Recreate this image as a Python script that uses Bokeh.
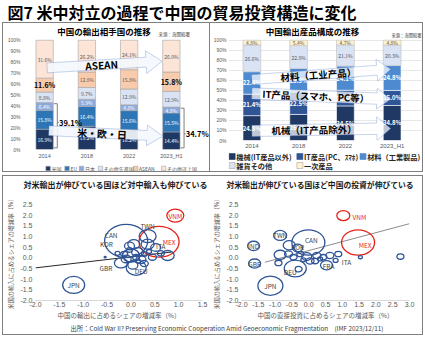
import numpy as np
from bokeh.plotting import figure
from bokeh.layouts import row, column
from bokeh.models import (ColumnDataSource, Label, PolyAnnotation,
                          FixedTicker, PrintfTickFormatter, NumeralTickFormatter, Range1d, Spacer)
from bokeh.embed import file_html
from bokeh.resources import INLINE
from bokeh.core.properties import value

JP = "Noto Sans CJK JP"
NUM = "Liberation Sans"
GRAY = "#595959"
BOXC = "#7f7f7f"

# ================= data =================
years = ["2014", "2018", "2022", "2023_H1"]

# 中国の輸出相手国の推移 (%)
dest_names = ["米国", "EU", "日本", "その他先進国", "ASEAN", "その他途上国"]
dest_us = [16.9, 19.2, 16.2, 14.4]
dest_eu = [15.8, 16.4, 15.6, 15.5]
dest_jp = [6.4, 5.9, 4.8, 4.8]
dest_dev = [8.8, 9.7, 12.9, 12.9]
dest_asean = [11.6, 12.8, 15.8, 15.8]
dest_devg = [31.6, 26.2, 24.1, 26.0]

# 中国輸出産品構成の推移 (%)
prod_names = ["機械(IT産品以外)", "IT産品(PC、ｽﾏﾎ)", "材料（工業製品)", "雑貨その他", "一次産品"]
prod_mach = [24.8, 26.0, 34.5, 34.8]
prod_it = [21.4, 22.5, 15.6, 15.0]
prod_mat = [22.4, 23.3, 24.1, 24.8]
prod_misc = [26.6, 22.8, 21.1, 20.3]
prod_prim = [4.8, 5.4, 4.7, 4.8]

# bubble chart 1: x = 中国の輸出に占めるシェアの増減率, y = 米国の輸入に占めるシェアの増減率
imp_code = ["JPN", "VNM", "MEX", "TWN", "CAN", "KOR", "GBR", "DEU", "ITA", "", "", "", "", "",
            "", "", "", "", "", "", "", "", "", "", "", "", "", ""]
imp_x = [-1.20, 0.93, 0.59, 0.35, -0.10, -0.03, -0.21, 0.11, 0.52, 0.06, 0.35, 0.77, 0.45, 0.00,
         0.14, -0.10, 0.21, 0.04, 0.28, -0.14, 0.11, -0.54, 0.63, -0.03, 0.28, -0.28, 0.38, 0.15]
imp_y = [-1.27, 1.98, 0.75, 1.02, 0.79, 0.56, -0.24, -0.46, 0.49, 0.64, 0.64, 0.11, 0.03, 0.11,
         0.26, -0.05, -0.09, -0.35, -0.27, 0.18, 0.03, 0.03, 0.21, 0.37, 0.18, 0.21, 0.30, -0.15]
imp_size = [22, 17, 40, 17, 43, 10, 13, 20, 10, 12, 13, 13, 8, 17,
            12, 10, 10, 10, 8, 7, 7, 2, 7, 6, 6, 5, 5, 5]
imp_fit = (0.05, 0.26)          # intercept, slope of the trend line
imp_fit_x = [-2.0, 0.85]

# bubble chart 2: x = 中国の直接投資に占めるシェアの増減率
fdi_code = ["VNM", "MEX", "TWN", "CAN", "IND", "GBR", "KOR", "", "DEU", "", "JPN", "FRA", "", "",
            "", "", "", "", "", "", "", "", "", "", "", "", "", "", "ITA"]
fdi_x = [1.03, 1.47, -0.85, -0.01, -1.64, -1.61, -0.33, -0.58, -0.40, -0.30, -1.14, 0.53, 2.73, 1.54,
         0.88, -0.90, -0.85, -0.60, -0.06, 0.04, 0.24, 0.44, 0.63, -0.25, -0.45, 0.19, -0.16, 0.34, 0.80]
fdi_y = [1.98, 0.72, 1.05, 0.72, 0.56, -0.27, 0.46, 0.59, -0.50, -0.53, -1.31, -0.35, 0.06, 0.03,
         0.18, -0.24, 0.14, 0.18, 0.06, -0.15, 0.11, 0.03, 0.11, 0.18, 0.03, -0.15, -0.09, -0.05, -0.12]
fdi_size = [13, 33, 13, 33, 12, 12, 10, 12, 22, 7, 25, 12, 7, 4,
            7, 7, 12, 8, 10, 8, 8, 7, 8, 7, 7, 7, 5, 5, 5]
fdi_fit = (0.34, 0.42)
fdi_fit_x = [-1.3, 3.0]

RED_CODES = {"VNM", "MEX"}

# ================= styles =================
DEST_COLORS = ["#1f3864", "#2e75b6", "#8eaadb", "#dae3f3", "#f8cbad", "#fce4d6"]
PROD_COLORS = ["#1f3864", "#2f5597", "#4e8ad0", "#dae3f3", "#fff2cc"]
PROD_LINES = ["#1f3864", "#2f5597", "#4e8ad0", "#a6a6a6", "#a6a6a6"]
BLUE = "#2f5597"
RED = "#e3241b"

imp_lab_off = {"JPN": (0, 0), "VNM": (0, 0), "MEX": (10, 0), "TWN": (0, -10), "CAN": (-15, -6),
               "KOR": (-23, -2), "GBR": (-15, 5), "DEU": (5, 3), "ITA": (5, -1)}
fdi_lab_off = {"VNM": (16, 1), "MEX": (7, 3), "TWN": (0, 0), "CAN": (3, -2), "IND": (0, 0),
               "GBR": (0, 0), "KOR": (0, -1), "DEU": (-5, 3), "JPN": (0, 0), "FRA": (2, 1),
               "ITA": (11, 2)}

# legend item slots (pixels from the legend strip's left edge / bottom edge)
LEG_L_X = [25, 46, 62, 83, 122, 153]
LEG_R_X = [1, 75, 144]
LEG_R_Y = [15, 6]


def base_fig(w, h, xr, yr, bl, br, bt, bb):
    p = figure(width=w, height=h, x_range=Range1d(*xr), y_range=Range1d(*yr),
               output_backend="svg", toolbar_location=None, title=None,
               min_border_left=bl, min_border_right=br, min_border_top=bt, min_border_bottom=bb)
    p.outline_line_color = None
    p.grid.visible = False
    for ax in p.axis:
        ax.axis_line_color = None
        ax.major_tick_line_color = None
        ax.minor_tick_line_color = None
        ax.major_tick_out = 0
        ax.major_tick_in = 0
        ax.minor_tick_out = 0
        ax.minor_tick_in = 0
        ax.axis_label_standoff = 0
        ax.major_label_text_font = NUM
        ax.major_label_text_color = GRAY
    return p


def blank_fig(w, h):
    p = figure(width=w, height=h, x_range=Range1d(0, w), y_range=Range1d(0, h),
               output_backend="svg", toolbar_location=None, title=None,
               x_axis_location=None, y_axis_location=None, min_border=0)
    p.outline_line_color = None
    p.grid.visible = False
    return p


def abs_label(p, fl, fb, ax, ay, text, size, color="black", bold=False, align="center", angle=0.0):
    p.add_layout(Label(x=ax - fl, y=fb - ay, x_units="screen", y_units="screen", text=text,
                       text_font=JP, text_font_size=f"{size}px",
                       text_font_style="bold" if bold else "normal",
                       text_color=color, text_align=align, text_baseline="middle", angle=angle))


def arrow(p, x0, y0, x1, y1, kx, ky, body, head_w, head_l, fill, alpha, line):
    X0, Y0, X1, Y1 = x0 * kx, y0 * ky, x1 * kx, y1 * ky
    dx, dy = X1 - X0, Y1 - Y0
    L = np.hypot(dx, dy)
    ux, uy = dx / L, dy / L
    nx, ny = -uy, ux
    bx, by = X1 - ux * head_l, Y1 - uy * head_l
    pts = [(X0 + nx * body / 2, Y0 + ny * body / 2), (bx + nx * body / 2, by + ny * body / 2),
           (bx + nx * head_w / 2, by + ny * head_w / 2), (X1, Y1),
           (bx - nx * head_w / 2, by - ny * head_w / 2), (bx - nx * body / 2, by - ny * body / 2),
           (X0 - nx * body / 2, Y0 - ny * body / 2)]
    p.add_layout(PolyAnnotation(xs=[a / kx for a, _ in pts], ys=[b / ky for _, b in pts],
                                fill_color=fill, fill_alpha=alpha, line_color=line, line_width=1))


def arrow_text(p, x0, y0, x1, y1, kx, ky, xt, text, size):
    yt = y0 + (xt - x0) / (x1 - x0) * (y1 - y0)
    ang = float(np.arctan2((y1 - y0) * ky, (x1 - x0) * kx))
    p.add_layout(Label(x=xt, y=yt, text=text, angle=ang, text_font=JP, text_font_style="bold",
                       text_font_size=f"{size}px", text_align="center", text_baseline="middle",
                       text_color="black"))


def stacked(vals):
    a = np.array(vals, dtype=float)
    h = a / a.sum(axis=0) * 100.0
    top = np.cumsum(h, axis=0)
    return a, h, top - h, top


def legend_strip(w, h, names, colors, lines, xs, ys, sq, fs, tcolor, bold):
    f = blank_fig(w, h)
    f.scatter(x=[x + sq / 2 for x in xs], y=ys, marker="square", size=sq, fill_color=colors,
              line_color=lines, line_width=0.6)
    f.text(x=[x + sq + 1.5 for x in xs], y=ys, text=names, text_font=value(JP),
           text_font_size=f"{fs}px", text_font_style="bold" if bold else "normal",
           text_color=tcolor, text_align="left", text_baseline="middle")
    return f


xpos = list(range(len(years)))
year_labels = {i: y for i, y in enumerate(years)}

# ================= title =================
pt = blank_fig(425, 22)
abs_label(pt, 0, 22, 7, 11, "図7 米中対立の過程で中国の貿易投資構造に変化", 16, bold=True, align="left")

# ================= left stacked bars =================
LW, LH, Lbl, Lbr, Lbt, Lbb = 206, 138, 20, 0, 0, 10
kxL, kyL = 42.25, 1.11
L_fw, L_fh = LW - Lbl - Lbr, LH - Lbt - Lbb
pL = base_fig(LW, LH, (-0.5, -0.5 + L_fw / kxL), (0, L_fh / kyL), Lbl, Lbr, Lbt, Lbb)
L_fl, L_fb = 3 + Lbl, 23 + LH - Lbb
rawL, hL, botL, topL = stacked([dest_us, dest_eu, dest_jp, dest_dev, dest_asean, dest_devg])
keysL = [f"s{i}" for i in range(6)]
srcL = ColumnDataSource(dict(x=xpos, **{k: hL[i] for i, k in enumerate(keysL)}))
pL.vbar_stack(keysL, x="x", width=0.41, color=DEST_COLORS, line_color="#a6a6a6",
              line_width=0.6, source=srcL)
pL.yaxis.ticker = FixedTicker(ticks=list(range(0, 101, 10)))
pL.yaxis.formatter = PrintfTickFormatter(format="%d%%")
pL.yaxis.major_label_text_font_size = "5px"
pL.yaxis.major_label_standoff = 3
pL.xaxis.ticker = FixedTicker(ticks=xpos)
pL.xaxis.major_label_overrides = year_labels
pL.xaxis.major_label_text_font_size = "5.5px"
pL.xaxis.major_label_standoff = 3

lx, ly, lt, lc, bx_, by_, bt_ = [], [], [], [], [], [], []
for i in range(6):
    for j in xpos:
        mid = (botL[i, j] + topL[i, j]) / 2
        txt = f"{rawL[i, j]:.1f}%"
        if i == 4 and j in (0, 3):
            bx_.append(j); by_.append(mid); bt_.append(txt)
        else:
            lx.append(j); ly.append(mid); lt.append(txt)
            lc.append("white" if i < 3 else GRAY)
pL.text(x=lx, y=ly, text=lt, text_color=lc, text_font=value(JP), text_font_size="5px",
        text_align="center", text_baseline="middle")
pL.text(x=bx_, y=by_, text=bt_, text_color="black", text_font=value(JP), text_font_size="7px",
        text_font_style="bold", text_align="center", text_baseline="middle")

# brackets for 米・欧・日 totals
br_frac = {0: 0.58, 3: 0.37}
bxs, bys = [], []
for j, fr in br_frac.items():
    ytop = topL[2, j]
    ymid = ytop * fr
    bxs += [[j + 0.22, j + 0.30, j + 0.30, j + 0.22], [j + 0.30, j + 0.34]]
    bys += [[ytop - 1.0, ytop - 1.0, 1.5, 1.5], [ymid, ymid]]
    tot = rawL[0, j] + rawL[1, j] + rawL[2, j]
    pL.add_layout(Label(x=j + 0.34, y=ymid, text=f"{tot:.1f}%", text_font=JP, text_font_size="7.5px",
                        text_font_style="bold", text_align="left", text_baseline="middle",
                        text_color="black"))
pL.multi_line(bxs, bys, line_color="#7f7f7f", line_width=1)

# arrows
arrow(pL, 0.06, 74.7, 2.78, 80.8, kxL, kyL, 10, 23, 16, "#f4f7fc", 0.92, "#4472c4")
arrow(pL, 0.10, 17.2, 2.80, 12.2, kxL, kyL, 10, 21, 16, "#f4f7fc", 0.92, "#4472c4")
arrow_text(pL, 0.06, 74.7, 2.78, 80.8, kxL, kyL, 1.35, "ASEAN", 10)
arrow_text(pL, 0.10, 17.2, 2.80, 12.2, kxL, kyL, 1.36, "米・欧・日", 10)

abs_label(pL, L_fl, L_fb, 103.5, 32, "中国の輸出相手国の推移", 8.5, bold=True)
abs_label(pL, L_fl, L_fb, 158, 35, "来源：海関総署", 4.5, color="#404040", align="left")

legL = legend_strip(206, 10, dest_names, DEST_COLORS, ["#a6a6a6"] * 6, LEG_L_X, [5] * 6,
                    4.5, 5, GRAY, False)

# ================= right stacked bars =================
RW, RH, Rbl, Rbr, Rbt, Rbb = 212, 128, 17, 0, 0, 9
kxR, kyR = 47.0, 1.02
R_fw, R_fh = RW - Rbl - Rbr, RH - Rbt - Rbb
pR = base_fig(RW, RH, (-0.5, -0.5 + R_fw / kxR), (0, R_fh / kyR), Rbl, Rbr, Rbt, Rbb)
R_fl, R_fb = 210 + Rbl, 23 + RH - Rbb
rawR, hR, botR, topR = stacked([prod_mach, prod_it, prod_mat, prod_misc, prod_prim])
keysR = [f"s{i}" for i in range(5)]
srcR = ColumnDataSource(dict(x=xpos, **{k: hR[i] for i, k in enumerate(keysR)}))
pR.ygrid.visible = True
pR.ygrid.grid_line_color = "#d9d9d9"
pR.ygrid.grid_line_width = 0.6
pR.yaxis.ticker = FixedTicker(ticks=list(range(0, 101, 10)))
pR.yaxis.formatter = PrintfTickFormatter(format="%d%%")
pR.yaxis.major_label_text_font_size = "5px"
pR.yaxis.major_label_standoff = 2
pR.xaxis.ticker = FixedTicker(ticks=xpos)
pR.xaxis.major_label_overrides = year_labels
pR.xaxis.major_label_text_font_size = "6px"
pR.xaxis.major_label_standoff = 2
pR.vbar_stack(keysR, x="x", width=0.38, color=PROD_COLORS,
              line_color=["white", "white", "white", "#bfbfbf", "#bfbfbf"],
              line_width=0.6, source=srcR)

wx, wy, wt, gx, gy, gt = [], [], [], [], [], []
for i in range(5):
    for j in xpos:
        mid = (botR[i, j] + topR[i, j]) / 2
        txt = f"{rawR[i, j]:.1f}%"
        if i < 3:
            wx.append(j); wy.append(mid); wt.append(txt)
        else:
            gx.append(j); gy.append(mid); gt.append(txt)
pR.text(x=wx, y=wy, text=wt, text_color="white", text_font=value(JP), text_font_size="6px",
        text_font_style="bold", text_align="center", text_baseline="middle")
pR.text(x=gx, y=gy, text=gt, text_color=GRAY, text_font=value(JP), text_font_size="5px",
        text_align="center", text_baseline="middle")

arrow(pR, 0.0, 60.7, 2.97, 71.1, kxR, kyR, 10, 22, 14, "#ffffff", 0.72, "#4472c4")
arrow(pR, 0.0, 46.9, 2.97, 41.2, kxR, kyR, 11.5, 21, 14, "#ffffff", 0.72, "#4472c4")
arrow(pR, 0.0, 9.6, 2.97, 12.0, kxR, kyR, 11.5, 24, 14, "#ffffff", 0.72, "#4472c4")
arrow_text(pR, 0.0, 60.7, 2.97, 71.1, kxR, kyR, 1.42, "材料（工业产品）", 9.5)
arrow_text(pR, 0.0, 46.9, 2.97, 41.2, kxR, kyR, 1.37, "IT产品（スマホ、PC等）", 9.5)
arrow_text(pR, 0.0, 9.6, 2.97, 12.0, kxR, kyR, 1.33, "机械（IT产品除外）", 9.5)

abs_label(pR, R_fl, R_fb, 311, 32, "中国輸出産品構成の推移", 8.5, bold=True)
abs_label(pR, R_fl, R_fb, 390, 36, "来源：海関総署", 4.3, color="#404040", align="left")

legR = legend_strip(212, 20, prod_names, PROD_COLORS, PROD_LINES,
                    LEG_R_X + LEG_R_X[:2], [LEG_R_Y[0]] * 3 + [LEG_R_Y[1]] * 2,
                    6, 7.2, "#262626", True)


# ================= bubble charts =================
def bubble_fig(w, xr, xticks, code, xs, ys, size, fit, fit_x, lab_off, bl, br, fit_color, xlab):
    p = base_fig(w, 126, xr, (-2.0, 2.5), bl, br, 8, 19)
    p.xaxis.ticker = FixedTicker(ticks=xticks)
    p.yaxis.ticker = FixedTicker(ticks=[-2.0, -1.5, -1.0, -0.5, 0.0, 0.5, 1.0, 1.5, 2.0, 2.5])
    p.xaxis.formatter = NumeralTickFormatter(format="0.0")
    p.yaxis.formatter = NumeralTickFormatter(format="0.0")
    p.xaxis.major_label_text_font_size = "7px"
    p.yaxis.major_label_text_font_size = "7px"
    p.xaxis.major_label_standoff = 1
    p.yaxis.major_label_standoff = 3
    p.xaxis.axis_line_color = "#d9d9d9"
    for ax, lab, fs, so in ((p.xaxis[0], xlab, "6.5px", 0),
                            (p.yaxis[0], "米国の輸入に占めるシェアの増減率（%）", "6px", 2)):
        ax.axis_label = lab
        ax.axis_label_text_font = JP
        ax.axis_label_text_font_size = fs
        ax.axis_label_text_font_style = "normal"
        ax.axis_label_text_color = GRAY
        ax.axis_label_standoff = so
    a, b = fit
    p.line(fit_x, [a + b * x for x in fit_x], line_color=fit_color, line_width=1)
    cols = [RED if c in RED_CODES else BLUE for c in code]
    src = ColumnDataSource(dict(x=xs, y=ys, w=size, h=[s / 1.3 for s in size], c=cols))
    p.ellipse(x="x", y="y", width="w", height="h", width_units="screen", height_units="screen",
              fill_color=None, line_color="c", line_width=1.3, source=src)
    tx, ty, tt, ox, oy, tc = [], [], [], [], [], []
    for c, x, y in zip(code, xs, ys):
        if c:
            tx.append(x); ty.append(y); tt.append(c)
            ox.append(lab_off[c][0]); oy.append(lab_off[c][1])
            tc.append(RED if c in RED_CODES else "#404040")
    p.text(x=tx, y=ty, text=tt, x_offset=ox, y_offset=oy, text_color=tc, text_font=value(JP),
           text_font_size="6.5px", text_align="center", text_baseline="middle")
    return p


pS1 = bubble_fig(206, (-2.0, 1.5), [-2.0, -1.5, -1.0, -0.5, 0.0, 0.5, 1.0, 1.5],
                 imp_code, imp_x, imp_y, imp_size, imp_fit, imp_fit_x, imp_lab_off, 31, 7,
                 "#262626", "中国の輸出に占めるシェアの増減率（%）")
pS2 = bubble_fig(212, (-2.0, 3.0), [-2.0, -1.5, -1.0, -0.5, 0.0, 0.5, 1.0, 1.5, 2.0, 2.5, 3.0],
                 fdi_code, fdi_x, fdi_y, fdi_size, fdi_fit, fdi_fit_x, fdi_lab_off, 31, 12,
                 "#8c8c8c", "中国の直接投資に占めるシェアの増減率（%）")

# scatter titles strip
pst = blank_fig(419, 20)
abs_label(pst, 3, 196, 23, 184, "対米輸出が伸びている国ほど対中輸入も伸びている", 8, bold=True,
          color="#1a1a1a", align="left")
abs_label(pst, 3, 196, 226, 184, "対米輸出が伸びている国ほど中国の投資が伸びている", 7.8, bold=True,
          color="#1a1a1a", align="left")

# ================= source line =================
ps = blank_fig(419, 12)
abs_label(ps, 3, 334, 226.5, 327.5,
          "出所：Cold War II? Preserving Economic Cooperation Amid Geoeconomic Fragmentation　(IMF 2023/12/11)",
          6.3, color="#404040")

# ================= layout =================
left_col = column(pL, legL, styles={"border-right": f"1px solid {BOXC}"})
top_box = row(left_col, column(pR, legR), styles={"border": f"1px solid {BOXC}"})
bottom_box = column(pst, row(pS1, pS2), ps, styles={"border": f"1px solid {BOXC}"})
page = column(pt, row(Spacer(width=2, height=10), top_box), Spacer(width=10, height=3),
              row(Spacer(width=2, height=10), bottom_box))

open("out.html", "w").write(file_html(page, INLINE))
